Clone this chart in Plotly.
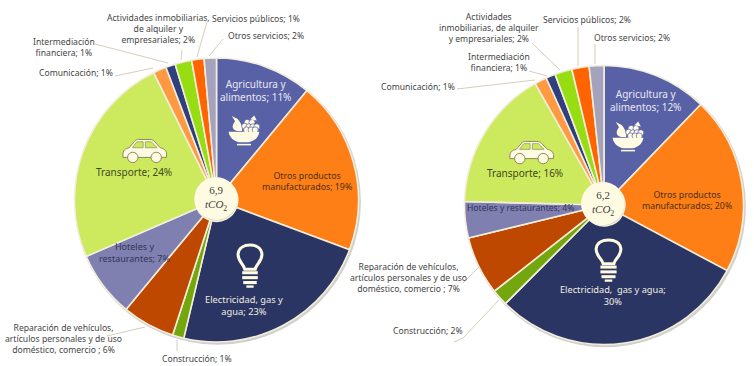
import re
import plotly.graph_objects as go

W, H = 754, 366

categorias = ["Agricultura y alimentos", "Otros productos manufacturados", "Electricidad, gas y agua",
              "Construcción", "Reparación de vehículos, artículos personales y de uso doméstico, comercio",
              "Hoteles y restaurantes", "Transporte", "Comunicación", "Intermediación financiera",
              "Actividades inmobiliarias, de alquiler y empresariales", "Servicios públicos", "Otros servicios"]
valores_izq = [11, 19.7, 23, 1.3, 6, 7.5, 24.2, 1.5, 1.1, 1.9, 1.4, 1.4]
valores_der = [12.2, 20.6, 29.7, 1.9, 6.8, 4.2, 16.4, 1.4, 1.1, 2.0, 2.0, 1.7]
colores = ["#5861A5", "#FF7F17", "#2B3563", "#74A60D", "#BF4800", "#7F80B0",
           "#CDE95E", "#FF9A42", "#30407F", "#96DE12", "#FF6400", "#A5A2BE"]

total_izq = "6,9"
total_der = "6,2"
CREMA = "#FFFBE3"
TXT = "#454545"
LINEA = "#D8CDB8"
FONT = "Noto Sans"

# text, x, y (window pixels), size, colour
etiquetas_izq = [
    ("Agricultura y<br>alimentos; 11%", 255, 91, 10, "#E8E8F2"),
    ("Otros productos<br>manufacturados; 19%", 307, 181, 8.8, "#4A3010"),
    ("Electricidad, gas y<br>agua; 23%", 244, 305, 9.3, "#F0EEE0"),
    ("Transporte; 24%", 134, 172, 10, "#3F4A20"),
    ("Hoteles y<br>restaurantes; 7%", 134, 252, 9, "#33345A"),
    ("Reparación de vehículos,<br>artículos personales y de uso<br>doméstico, comercio ; 6%", 63, 339, 8.6, TXT),
    ("Construcción; 1%", 197, 359, 8.6, TXT),
    ("Comunicación; 1%", 76, 73, 8.6, TXT),
    ("Intermediación<br>financiera; 1%", 64, 47, 8.6, TXT),
    ("Actividades inmobiliarias,<br>de alquiler y<br>empresariales; 2%", 158, 29, 8.6, TXT),
    ("Servicios públicos; 1%", 256, 19, 8.6, TXT),
    ("Otros servicios; 2%", 266, 36, 8.6, TXT),
]
etiquetas_der = [
    ("Agricultura y<br>alimentos; 12%", 645, 101, 10, "#E8E8F2"),
    ("Otros productos<br>manufacturados; 20%", 687, 200, 8.8, "#4A3010"),
    ("Electricidad,  gas y agua;<br>30%", 613, 295, 9.2, "#F0EEE0"),
    ("Transporte; 16%", 525, 173, 10, "#3F4A20"),
    ("Hoteles y restaurantes; 4%", 520, 208, 8.6, "#33345A"),
    ("Reparación de vehículos,<br>artículos personales y de uso<br>doméstico, comercio ; 7%", 408, 278, 8.6, TXT),
    ("Construcción; 2%", 428, 331, 8.6, TXT),
    ("Comunicación; 1%", 418, 87, 8.6, TXT),
    ("Intermediación<br>financiera; 1%", 499, 63, 8.6, TXT),
    ("Actividades<br>inmobiliarias, de alquiler<br>y empresariales; 2%", 489, 28, 8.6, TXT),
    ("Servicios públicos; 2%", 587, 20, 8.6, TXT),
    ("Otros servicios; 2%", 632, 38, 8.6, TXT),
]
guias = [
    [(95, 44), (168, 63)], [(115, 76), (153, 68)], [(182, 50), (181, 60)],
    [(207, 22), (197, 57)], [(223, 39), (209, 56)], [(107, 336), (145, 327)], [(177, 340), (177, 351)],
    [(457, 89), (535, 80)], [(529, 71), (547, 76)], [(532, 43), (560, 70)],
    [(578, 27), (578, 66)], [(595, 44), (595, 64)], [(479, 267), (463, 283)],
    [(499, 300), (463, 338), (454, 342)],
]
# centre x, centre y, radius of each pie; centre x, y, radius of the middle disc
pie_izq = (216.5, 200, 142, 216, 198.5, 21.5)
pie_der = (604, 205, 139.5, 602.7, 203.5, 21.7)


def px(x):
    return x / W


def py(y):
    return 1 - y / H


shapes, annots = [], []


def path(d, x0, y0, sx, sy, fill=None, line=None, lw=1):
    def rep(m):
        return f"{px(x0 + float(m[1]) * sx):.5f},{py(y0 + float(m[2]) * sy):.5f}"
    shapes.append(dict(type="path", xref="paper", yref="paper", path=re.sub(r"(-?[\d.]+),(-?[\d.]+)", rep, d),
                       fillcolor=fill or "rgba(0,0,0,0)",
                       line=dict(color=line or "rgba(0,0,0,0)", width=lw if line else 0)))


def circ(cx, cy, r, fill, line=None, lw=0, layer="above"):
    shapes.append(dict(type="circle", xref="paper", yref="paper", layer=layer,
                       x0=px(cx - r), x1=px(cx + r), y0=py(cy + r), y1=py(cy - r), fillcolor=fill,
                       line=dict(color=line or "rgba(0,0,0,0)", width=lw)))


def car(x, y, w, h, bg):
    sx, sy = w / 100, h / 50
    path("M2,34 C2,24 8,21 16,19 L28,5 C30,2 33,1 37,1 L62,1 C67,1 70,3 73,6 L85,19 C93,20 99,25 99,33 "
         "L99,40 L2,40 Z", x, y, sx, sy, CREMA, "#8A8A5E", 1)
    path("M23,19 L33,6 L47,6 L47,19 Z", x, y, sx, sy, bg, "#8A8A5E", 0.7)
    path("M52,6 L65,6 L78,19 L52,19 Z", x, y, sx, sy, bg, "#8A8A5E", 0.7)
    circ(x + 24 * sx, y + 40 * sy, 5.2, CREMA, "#8A8A5E", 1)
    circ(x + 76 * sx, y + 40 * sy, 5.2, CREMA, "#8A8A5E", 1)


def bowl(x, y, w, h, bg):
    sx, sy = w / 100, h / 100
    path("M30,52 C10,48 12,32 22,20 L12,3 L30,13 C40,24 46,38 44,52 Z", x, y, sx, sy, CREMA)
    for gx, gy in [(60, 24), (75, 24), (52, 36), (65, 38), (78, 38), (90, 38), (58, 48), (72, 48), (85, 48)]:
        circ(x + gx * sx, y + gy * sy, 3, CREMA, bg, 0.7)
    path("M70,14 L82,2 L90,18 Z", x, y, sx, sy, CREMA)
    path("M2,54 L98,54 C96,74 80,84 66,88 L34,88 C20,84 4,74 2,54 Z", x, y, sx, sy, CREMA)
    path("M28,93 L72,93 L72,98 L28,98 Z", x, y, sx, sy, CREMA)


def bulb(x, y, w, h):
    sx, sy = w / 100, h / 170
    path("M30,98 C26,76 4,70 4,40 C6,14 28,4 50,4 C72,4 94,14 96,40 C96,70 74,76 70,98 Z",
         x, y, sx, sy, None, CREMA, 3)
    for a, b, c, d in [(20, 105, 80, 117), (20, 124, 80, 136), (24, 143, 76, 155), (36, 160, 64, 169)]:
        path(f"M{a},{b} L{c},{b} L{c},{d} L{a},{d} Z", x, y, sx, sy, CREMA)


fig = go.Figure()
for vals, p in ((valores_izq, pie_izq), (valores_der, pie_der)):
    cx, cy, r, dx, dy, dr = p
    circ(cx + 1.2, cy + 1.5, r + 1.2, "#D2D0CC", layer="below")
    fig.add_trace(go.Pie(
        labels=categorias, values=vals, sort=False, direction="clockwise", rotation=0,
        hole=0.15, textinfo="none", hoverinfo="label+percent", showlegend=False,
        marker=dict(colors=colores, line=dict(color="#F3EEDB", width=1.6)),
        domain=dict(x=[px(cx - r), px(cx + r)], y=[py(cy + r), py(cy - r)]),
    ))
    circ(dx, dy, dr, CREMA)

for g in guias:
    d = "M" + " L".join(f"{a},{b}" for a, b in g)
    path(d, 0, 0, 1, 1, None, LINEA, 1)

car(122, 139, 45, 23, colores[6])
car(509, 141, 45, 22, colores[6])
bowl(228, 115, 32, 31, colores[0])
bowl(612, 121, 32, 31, colores[0])
bulb(237, 244, 26, 44)
bulb(595, 239, 27, 43)

for t, x, y, s, c in etiquetas_izq + etiquetas_der:
    annots.append(dict(text=t, x=px(x), y=py(y), xref="paper", yref="paper", xanchor="center", yanchor="middle",
                       showarrow=False, align="center", font=dict(family=FONT, size=s, color=c)))
for tot, p in ((total_izq, pie_izq), (total_der, pie_der)):
    annots.append(dict(text=f"{tot}<br><i>tCO</i><sub>2</sub>", x=px(p[3]), y=py(p[4]), xref="paper", yref="paper",
                       xanchor="center", yanchor="middle", showarrow=False, align="center",
                       font=dict(family="Liberation Serif", size=11, color="#404040")))

fig.update_layout(width=W, height=H, margin=dict(l=0, r=0, t=0, b=0), paper_bgcolor="white",
                  plot_bgcolor="white", shapes=shapes, annotations=annots)
fig.write_html("out.html", config=dict(displayModeBar=False),
               post_script="document.body.style.margin='0';document.body.style.overflow='hidden';")
